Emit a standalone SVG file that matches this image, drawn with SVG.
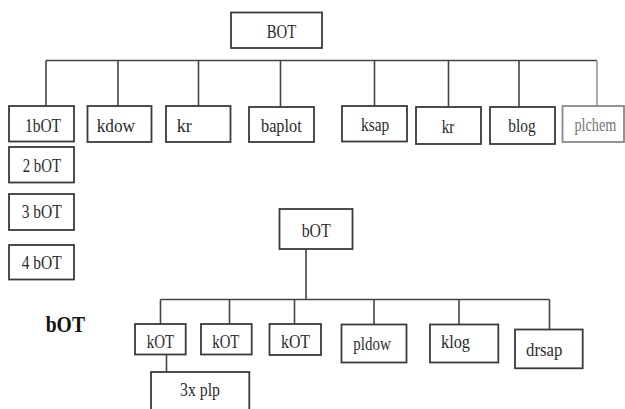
<svg xmlns="http://www.w3.org/2000/svg" width="625" height="409" viewBox="0 0 625 409">
<style>
rect{fill:#fff;stroke:#3a3a3a;stroke-width:1.8}
.c line,.c path{stroke:#444;stroke-width:1.6;fill:none}
text{font-family:"Liberation Serif","DejaVu Serif",serif;font-size:18px;fill:#2a2a2a}
.g rect{stroke:#888}
.g text{fill:#777}
.b{font-weight:bold;font-size:23px;fill:#111}
</style>
<rect x="0" y="0" width="625" height="409" style="fill:#fff;stroke:none"/>
<g class="c" id="connectors">
<line x1="46" y1="60.5" x2="597" y2="60.5"/>
<line x1="46" y1="60.5" x2="46" y2="106"/>
<line x1="118" y1="60.5" x2="118" y2="106"/>
<line x1="198.5" y1="60.5" x2="198.5" y2="106"/>
<line x1="280.5" y1="60.5" x2="280.5" y2="107"/>
<line x1="374.5" y1="60.5" x2="374.5" y2="106"/>
<line x1="448.5" y1="60.5" x2="448.5" y2="107"/>
<line x1="519" y1="60.5" x2="519" y2="107"/>
<line x1="597" y1="60.5" x2="597" y2="106" style="stroke:#999"/>
<line x1="306" y1="249" x2="306" y2="299.5"/>
<line x1="160.5" y1="299.5" x2="549.5" y2="299.5"/>
<line x1="160.5" y1="299.5" x2="160.5" y2="324"/>
<line x1="229.5" y1="299.5" x2="229.5" y2="324"/>
<line x1="294.5" y1="299.5" x2="294.5" y2="324"/>
<line x1="374" y1="299.5" x2="374" y2="324"/>
<line x1="459" y1="299.5" x2="459" y2="324"/>
<line x1="549.5" y1="299.5" x2="549.5" y2="329"/>
<line x1="166.5" y1="354.5" x2="166.5" y2="372"/>
</g>
<g id="BOT"><rect x="231" y="12.5" width="91" height="35.5"/><text x="266.7" y="38" textLength="29.5" lengthAdjust="spacingAndGlyphs">BOT</text></g>
<g id="n1bOT"><rect x="9" y="106" width="65" height="35.5"/><text x="25" y="131.7" textLength="36" lengthAdjust="spacingAndGlyphs">1bOT</text></g>
<g id="kdow"><rect x="87.5" y="106" width="64" height="36"/><text x="96.7" y="132" textLength="38.3" lengthAdjust="spacingAndGlyphs">kdow</text></g>
<g id="kr1"><rect x="166" y="106" width="64.5" height="36"/><text x="176.7" y="132" textLength="15" lengthAdjust="spacingAndGlyphs">kr</text></g>
<g id="baplot"><rect x="249" y="107" width="65" height="35"/><text x="261" y="132" textLength="40.7" lengthAdjust="spacingAndGlyphs">baplot</text></g>
<g id="ksap"><rect x="342" y="106" width="65" height="35.5"/><text x="361" y="131" textLength="28.3" lengthAdjust="spacingAndGlyphs">ksap</text></g>
<g id="kr2"><rect x="416" y="107" width="65" height="37"/><text x="441.7" y="133" textLength="12.6" lengthAdjust="spacingAndGlyphs">kr</text></g>
<g id="blog"><rect x="490" y="107" width="65" height="37"/><text x="508.3" y="132" textLength="27.4" lengthAdjust="spacingAndGlyphs">blog</text></g>
<g id="plchem" class="g"><rect x="562.5" y="106" width="61.5" height="36"/><text transform="translate(574.5 131) scale(0.79 1)" x="0" y="0">plchem</text></g>
<g id="n2bOT"><rect x="9" y="147" width="65" height="35.5"/><text x="22.7" y="171.7" textLength="38.3" lengthAdjust="spacingAndGlyphs">2 bOT</text></g>
<g id="n3bOT"><rect x="9" y="194" width="65" height="36"/><text x="21.7" y="218.3" textLength="40" lengthAdjust="spacingAndGlyphs">3 bOT</text></g>
<g id="n4bOT"><rect x="9" y="245" width="65" height="34.5"/><text x="21.7" y="269.3" textLength="40" lengthAdjust="spacingAndGlyphs">4 bOT</text></g>
<g id="label"><text class="b" x="45.7" y="331.5" textLength="39.3" lengthAdjust="spacingAndGlyphs">bOT</text></g>
<g id="bOT2"><rect x="279.5" y="209" width="73" height="40"/><text x="301.7" y="236.7" textLength="29" lengthAdjust="spacingAndGlyphs">bOT</text></g>
<g id="kOT1"><rect x="135" y="324" width="50.7" height="30.5"/><text x="146.7" y="348.3" textLength="27.3" lengthAdjust="spacingAndGlyphs">kOT</text></g>
<g id="kOT2"><rect x="201" y="324" width="50.7" height="30.5"/><text x="212.3" y="348.3" textLength="27" lengthAdjust="spacingAndGlyphs">kOT</text></g>
<g id="kOT3"><rect x="269.5" y="324" width="51.5" height="31"/><text x="281" y="348.3" textLength="29" lengthAdjust="spacingAndGlyphs">kOT</text></g>
<g id="pldow"><rect x="341.5" y="324.5" width="65" height="38"/><text x="353.3" y="350" textLength="37.4" lengthAdjust="spacingAndGlyphs">pldow</text></g>
<g id="klog"><rect x="430" y="324.5" width="68.3" height="38"/><text x="441" y="348.3" textLength="29" lengthAdjust="spacingAndGlyphs">klog</text></g>
<g id="drsap"><rect x="515" y="329.5" width="67.7" height="38.8"/><text x="526" y="355.7" textLength="36.3" lengthAdjust="spacingAndGlyphs">drsap</text></g>
<g id="plp"><rect x="151" y="372" width="98.3" height="50"/><text x="180" y="396" textLength="40" lengthAdjust="spacingAndGlyphs">3x plp</text></g>
</svg>
